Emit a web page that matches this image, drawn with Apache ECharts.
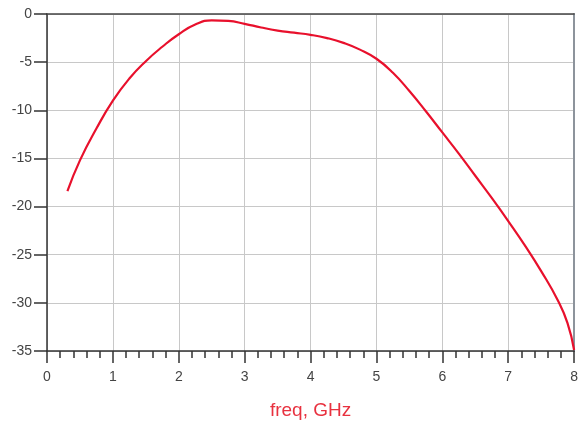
<!DOCTYPE html>
<html>
<head>
<meta charset="utf-8">
<script src="https://cdn.jsdelivr.net/npm/echarts@6/dist/echarts.min.js"></script>
<style>html,body{margin:0;padding:0;background:#fff}#c{width:581px;height:425px}</style>
</head>
<body>
<div id="c"></div>
<script>
const freq = [0.31,0.5,0.75,1.0,1.25,1.5,1.75,2.0,2.25,2.5,2.75,3.0,3.25,3.5,3.75,4.0,4.25,4.5,4.75,5.0,5.25,5.5,5.75,6.0,6.25,6.5,6.75,7.0,7.25,7.5,7.75,7.9,8.0];
const gain = [-18.4,-15.2,-11.9,-9.0,-6.7,-4.9,-3.4,-2.1,-1.1,-0.66,-0.72,-1.02,-1.4,-1.72,-1.94,-2.16,-2.5,-3.0,-3.7,-4.65,-6.1,-8.0,-10.1,-12.3,-14.5,-16.8,-19.1,-21.5,-24.0,-26.7,-29.7,-32.1,-34.9];
const xName = 'freq, GHz';

const chart = echarts.init(document.getElementById('c'), null, {renderer:'canvas'});
const font = 'Liberation Sans, Arial, sans-serif';
chart.setOption({
  animation: false,
  grid: {left: 47, right: 4, top: 14, bottom: 74, containLabel: false},
  xAxis: [{
    type: 'value', min: 0, max: 8, interval: 1, position: 'bottom',
    name: xName, nameLocation: 'middle', nameGap: 50,
    nameTextStyle: {color: '#e8313f', fontSize: 19, fontFamily: font},
    axisLine: {show: true, onZero: false, lineStyle: {color: '#333', width: 1.5}},
    axisTick: {show: true, length: 12, lineStyle: {color: '#333', width: 1.5}},
    minorTick: {show: true, splitNumber: 5, length: 7, lineStyle: {color: '#333', width: 1.5}},
    axisLabel: {color: '#444', fontSize: 14, margin: 19, fontFamily: font},
    splitLine: {show: true, lineStyle: {color: '#c8c8c8', width: 1}}
  }, {
    type: 'value', min: 0, max: 8, interval: 1, position: 'top',
    axisLine: {show: true, onZero: false, lineStyle: {color: '#444', width: 1.5}},
    axisTick: {show: false}, axisLabel: {show: false}, splitLine: {show: false}
  }],
  yAxis: [{
    type: 'value', min: -35, max: 0, interval: 5, position: 'left',
    axisLine: {show: true, onZero: false, lineStyle: {color: '#333', width: 1.5}},
    axisTick: {show: true, length: 13, lineStyle: {color: '#333', width: 1.5}},
    axisLabel: {color: '#444', fontSize: 14, margin: 15, fontFamily: font},
    splitLine: {show: true, lineStyle: {color: '#c8c8c8', width: 1}}
  }, {
    type: 'value', min: -35, max: 0, interval: 5, position: 'right',
    axisLine: {show: true, onZero: false, lineStyle: {color: '#8d949c', width: 2}},
    axisTick: {show: false}, axisLabel: {show: false}, splitLine: {show: false}
  }],
  series: [{
    type: 'line', xAxisIndex: 0, yAxisIndex: 0,
    data: freq.map((f, i) => [f, gain[i]]),
    smooth: 0.5, showSymbol: false,
    lineStyle: {color: '#e8102c', width: 2.2}
  }]
});
</script>
</body>
</html>
